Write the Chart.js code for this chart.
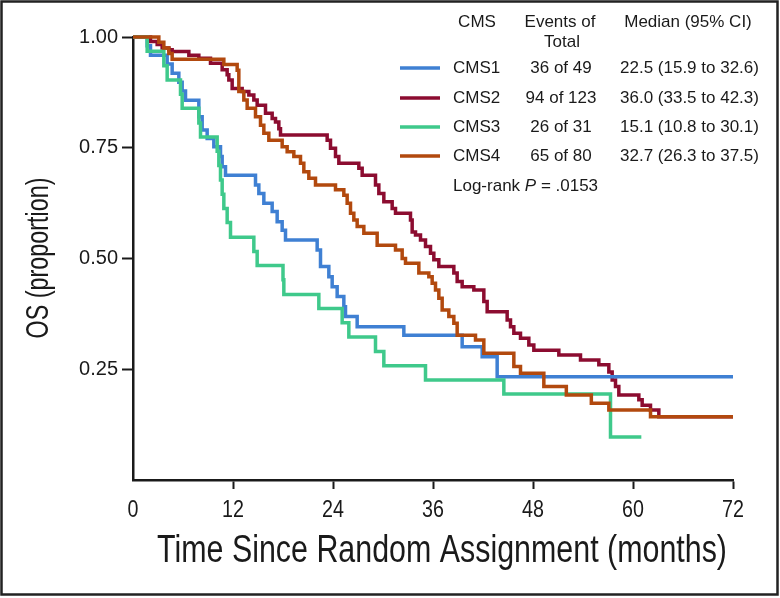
<!DOCTYPE html>
<html>
<head>
<meta charset="utf-8">
<script src="https://cdn.jsdelivr.net/npm/chart.js@4.4.1/dist/chart.umd.min.js"></script>
<style>
  html, body { margin: 0; padding: 0; background: #fff; }
  #wrap { position: relative; width: 780px; height: 598px; }
  canvas { display: block; }
</style>
</head>
<body>
<div id="wrap"><canvas id="c" width="780" height="598"></canvas></div>
<script>
// ---- data (months, survival proportion) ----
const cms1Time = [0, 1.7, 2.1, 4.1, 4.7, 5.5, 5.9, 6.3, 7.9, 8.3, 8.9, 9.7, 10.5, 10.7, 11.1, 14.7, 15.1, 15.7, 16.7, 17.3, 17.9, 18.3, 22.1, 22.5, 23.5, 23.9, 24.5, 25.3, 25.5, 26.9, 32.5, 39.5, 41.9, 43.7, 72];
const cms1Surv = [1, 0.98, 0.959, 0.939, 0.918, 0.898, 0.878, 0.857, 0.82, 0.79, 0.771, 0.752, 0.73, 0.707, 0.688, 0.666, 0.647, 0.625, 0.606, 0.583, 0.564, 0.542, 0.519, 0.482, 0.459, 0.436, 0.414, 0.391, 0.369, 0.346, 0.327, 0.301, 0.278, 0.233, 0.233];

const cms2Time = [0, 2.1, 2.9, 3.5, 4.3, 4.7, 6.7, 7.9, 9.3, 10.7, 11.3, 11.5, 11.9, 13.1, 13.9, 14.5, 14.9, 15.9, 16.7, 17.1, 17.5, 17.7, 23.3, 23.7, 24.3, 24.7, 27.1, 27.5, 29.1, 29.5, 30.1, 31.1, 31.5, 33.3, 33.5, 33.9, 34.5, 35.1, 35.7, 36.1, 36.7, 38.5, 38.9, 39.5, 40.9, 42.1, 42.5, 44.9, 45.3, 45.7, 46.5, 47.5, 48.1, 51.1, 53.7, 55.9, 57.1, 57.5, 57.9, 58.3, 60.7, 61.1, 62.1, 63.1, 72];
const cms2Surv = [1, 0.99, 0.983, 0.975, 0.971, 0.967, 0.959, 0.952, 0.941, 0.926, 0.915, 0.903, 0.884, 0.877, 0.869, 0.858, 0.846, 0.828, 0.816, 0.808, 0.793, 0.779, 0.767, 0.749, 0.73, 0.715, 0.704, 0.688, 0.666, 0.647, 0.628, 0.613, 0.602, 0.587, 0.56, 0.553, 0.542, 0.527, 0.512, 0.497, 0.482, 0.467, 0.448, 0.436, 0.429, 0.403, 0.38, 0.361, 0.346, 0.331, 0.32, 0.305, 0.293, 0.282, 0.271, 0.26, 0.244, 0.226, 0.211, 0.192, 0.181, 0.169, 0.158, 0.143, 0.143];

const cms3Time = [0, 1.7, 3.7, 4.1, 5.7, 5.9, 7.9, 8.1, 10.1, 10.3, 10.5, 10.7, 10.9, 11.3, 11.7, 14.5, 14.9, 18.0, 18.1, 22.3, 25.1, 25.9, 29.1, 30.1, 35.1, 44.5, 57.3, 61.0];
const cms3Surv = [1, 0.968, 0.935, 0.903, 0.871, 0.839, 0.806, 0.774, 0.742, 0.71, 0.677, 0.645, 0.613, 0.581, 0.548, 0.516, 0.484, 0.452, 0.419, 0.387, 0.355, 0.323, 0.29, 0.258, 0.226, 0.194, 0.097, 0.097];

const cms4Time = [0, 3.1, 3.7, 4.3, 4.7, 10.9, 12.5, 12.7, 13.3, 13.7, 14.7, 15.3, 15.7, 16.3, 17.9, 18.5, 19.3, 20.1, 20.5, 21.1, 21.9, 24.3, 25.3, 25.7, 26.1, 26.5, 26.9, 27.7, 29.3, 31.5, 32.3, 32.7, 34.3, 35.5, 35.9, 36.3, 36.7, 37.1, 37.9, 38.5, 38.9, 41.1, 42.1, 45.7, 46.5, 49.3, 52.0, 55.0, 57.1, 62.1, 72];
const cms4Surv = [1, 0.988, 0.975, 0.963, 0.95, 0.938, 0.925, 0.877, 0.858, 0.839, 0.82, 0.801, 0.783, 0.767, 0.752, 0.741, 0.73, 0.715, 0.696, 0.681, 0.666, 0.655, 0.643, 0.625, 0.602, 0.587, 0.572, 0.557, 0.53, 0.519, 0.5, 0.489, 0.467, 0.459, 0.444, 0.429, 0.41, 0.384, 0.369, 0.354, 0.327, 0.316, 0.286, 0.256, 0.241, 0.211, 0.192, 0.173, 0.158, 0.143, 0.143];

const groupNames  = ['CMS1', 'CMS2', 'CMS3', 'CMS4'];
const eventsText  = ['36 of 49', '94 of 123', '26 of 31', '65 of 80'];
const medianText  = ['22.5 (15.9 to 32.6)', '36.0 (33.5 to 42.3)', '15.1 (10.8 to 30.1)', '32.7 (26.3 to 37.5)'];
const xTickValues = [0, 12, 24, 36, 48, 60, 72];
const yTickValues = [0, 0.25, 0.5, 0.75, 1];
const pValueText  = '.0153';

// ---- styles ----
const colors = ['#3f80d3', '#8c0c30', '#3fc98b', '#b2490e'];
const drawOrder = [2, 3, 1, 0];

function pts(t, s) { return t.map((v, i) => ({ x: v, y: s[i] })); }
const series = [pts(cms1Time, cms1Surv), pts(cms2Time, cms2Surv), pts(cms3Time, cms3Surv), pts(cms4Time, cms4Surv)];

const sans = '"Liberation Sans", Arial, sans-serif';
const ink = '#1a1a1a';

// draw condensed text by squeezing a regular face horizontally
function condensedText(ctx, text, x, y, size, squeeze) {
  ctx.save();
  ctx.translate(x, y);
  ctx.scale(squeeze, 1);
  ctx.font = size + 'px ' + sans;
  ctx.fillText(text, 0, 0);
  ctx.restore();
}

const deco = {
  id: 'deco',
  afterDraw(chart) {
    const ctx = chart.ctx;
    ctx.save();
    // frame
    ctx.strokeStyle = '#222';
    ctx.lineWidth = 2.5;
    ctx.strokeRect(1.5, 1.5, 776, 593);

    ctx.fillStyle = ink;
    ctx.textAlign = 'center';
    ctx.textBaseline = 'middle';

    // x tick labels (condensed), positioned by the library's x scale
    const xs = chart.scales.x;
    for (const v of xTickValues) {
      condensedText(ctx, String(v), xs.getPixelForValue(v), 510, 24, 0.82);
    }

    // axis titles
    condensedText(ctx, 'Time Since Random Assignment (months)', 442, 552, 38, 0.8);
    ctx.save();
    ctx.translate(39, 258);
    ctx.rotate(-Math.PI / 2);
    condensedText(ctx, 'OS (proportion)', 0, 0, 32, 0.73);
    ctx.restore();

    // legend table
    ctx.font = '17px ' + sans;
    ctx.fillStyle = ink;
    ctx.textAlign = 'center';
    ctx.fillText('CMS', 477, 22);
    ctx.fillText('Events of', 560, 22);
    ctx.fillText('Total', 562, 42);
    ctx.fillText('Median (95% CI)', 688, 22);
    const rowY = [68, 98, 127, 156];
    for (let i = 0; i < groupNames.length; i++) {
      const y = rowY[i];
      ctx.strokeStyle = colors[i];
      ctx.lineWidth = 3.5;
      ctx.beginPath();
      ctx.moveTo(400, y);
      ctx.lineTo(440, y);
      ctx.stroke();
      ctx.textAlign = 'left';
      ctx.fillText(groupNames[i], 453, y);
      ctx.textAlign = 'center';
      ctx.fillText(eventsText[i], 561, y);
      ctx.textAlign = 'left';
      ctx.fillText(medianText[i], 620, y);
    }
    // log-rank line
    let x = 453;
    const ly = 186;
    ctx.textAlign = 'left';
    ctx.font = '17px ' + sans;
    ctx.fillText('Log-rank ', x, ly);
    x += ctx.measureText('Log-rank ').width;
    ctx.font = 'italic 17px ' + sans;
    ctx.fillText('P', x, ly);
    x += ctx.measureText('P').width;
    ctx.font = '17px ' + sans;
    ctx.fillText(' = ' + pValueText, x, ly);
    ctx.restore();
  }
};

const hideZero = (c) => (c.tick && c.tick.value === 0) ? 'rgba(0,0,0,0)' : ink;

new Chart(document.getElementById('c'), {
  type: 'line',
  data: {
    datasets: series.map((d, i) => ({
      label: groupNames[i],
      data: d,
      stepped: 'before',
      borderColor: colors[i],
      backgroundColor: colors[i],
      borderWidth: 3.5,
      pointRadius: 0,
      fill: false,
      clip: false,
      order: drawOrder[i]
    }))
  },
  options: {
    responsive: false,
    animation: false,
    devicePixelRatio: 1,
    layout: { padding: { left: 0, top: 37, right: 47, bottom: 0 } },
    plugins: { legend: { display: false }, tooltip: { enabled: false } },
    scales: {
      x: {
        type: 'linear',
        min: 0, max: 72,
        afterBuildTicks: (s) => { s.ticks = xTickValues.map(v => ({ value: v })); },
        afterFit: (s) => { s.height = 118; },
        border: { display: true, color: ink, width: 2.5 },
        grid: { drawOnChartArea: false, drawTicks: true, tickLength: 9, tickWidth: 2, tickColor: hideZero },
        ticks: { color: 'rgba(0,0,0,0)', font: { family: sans, size: 20 }, padding: 8, maxRotation: 0 }
      },
      y: {
        type: 'linear',
        min: 0, max: 1,
        afterBuildTicks: (s) => { s.ticks = yTickValues.map(v => ({ value: v })); },
        afterFit: (s) => { s.width = 133; },
        border: { display: true, color: ink, width: 2.5 },
        grid: { drawOnChartArea: false, drawTicks: true, tickLength: 11, tickWidth: 2, tickColor: hideZero },
        ticks: {
          color: ink, font: { family: sans, size: 20 }, padding: 4,
          callback: (v) => v === 0 ? '' : v.toFixed(2)
        }
      }
    }
  },
  plugins: [deco]
});
</script>
</body>
</html>
